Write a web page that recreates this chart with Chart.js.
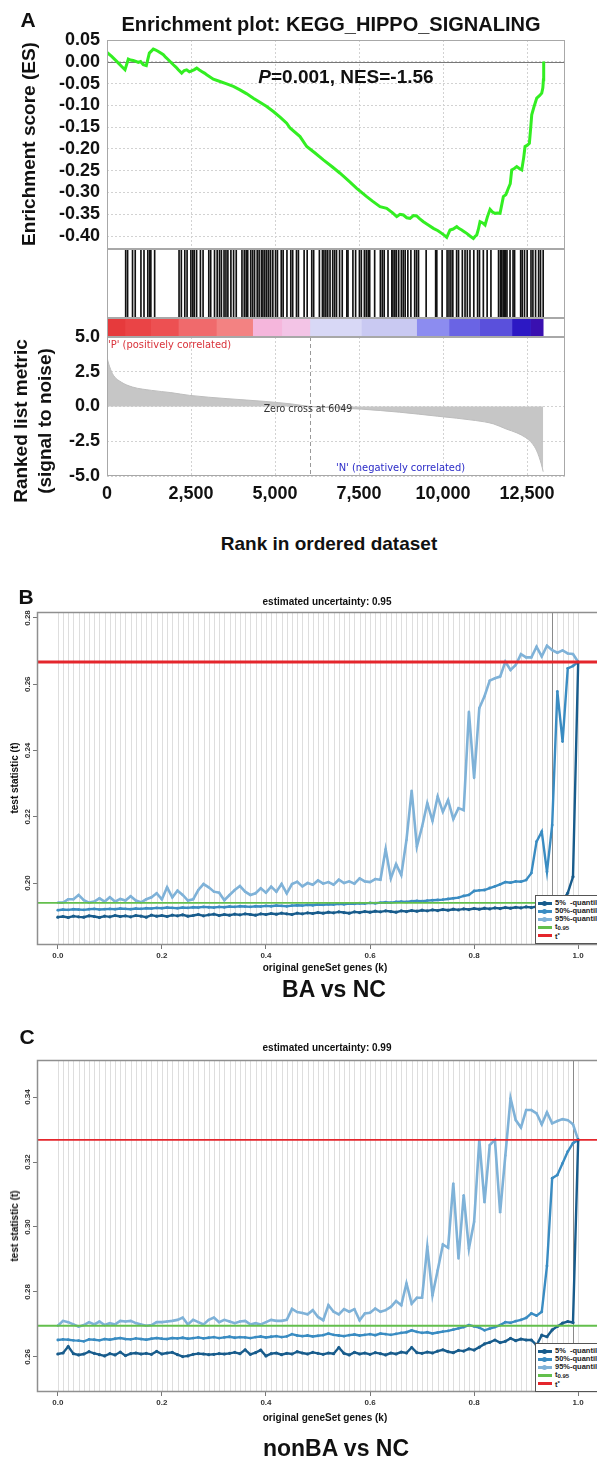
<!DOCTYPE html>
<html>
<head>
<meta charset="utf-8">
<script src="https://cdn.jsdelivr.net/npm/chart.js@4.4.1/dist/chart.umd.min.js"></script>
<style>
html, body { margin: 0; padding: 0; background: #fff; }
#page { position: relative; width: 597px; height: 1457px; overflow: hidden; background: #fff;
        font-family: "Liberation Sans", Arial, sans-serif; color: #111; }
.box { position: absolute; }
.t { position: absolute; white-space: nowrap; line-height: 1; transform: translate(-50%, -50%); font-weight: bold; }
.t.rot { transform: translate(-50%, -50%) rotate(-90deg); }
.tl { position: absolute; white-space: nowrap; line-height: 1; transform: translate(0, -50%); }
.narrow { font-family: "Liberation Sans Narrow", "DejaVu Sans Condensed", sans-serif; }
.legend { position: absolute; background: #fff; border: 1px solid #555; width: 80px; height: 44px;
          padding-top: 3px; font: bold 7.5px "Liberation Sans", Arial, sans-serif; color: #222; }
.legend div { position: relative; height: 8px; line-height: 8px; padding-left: 19px; white-space: nowrap; }
.legend .s { position: absolute; left: 2px; top: 3px; width: 14px; height: 2.5px; }
.legend .d { position: absolute; left: 6px; top: 1.5px; width: 5px; height: 5px; border-radius: 50%; }
.legend sub { font-size: 6px; vertical-align: -1px; }
.legend sup { font-size: 6px; vertical-align: 2px; }
</style>
</head>
<body>
<div id="page">
  <div class="box" style="left:0;top:30px;width:597px;height:219px"><canvas id="es"></canvas></div>
  <div class="box" style="left:0;top:249px;width:597px;height:69px"><canvas id="hits"></canvas></div>
  <div class="box" style="left:0;top:318px;width:597px;height:19px"><canvas id="heat"></canvas></div>
  <div class="box" style="left:0;top:322px;width:597px;height:184px"><canvas id="metric"></canvas></div>
  <div class="box" style="left:0;top:598px;width:620px;height:372px"><canvas id="runB"></canvas></div>
  <div class="box" style="left:0;top:1046px;width:620px;height:371px"><canvas id="runC"></canvas></div>

  <div class="t" style="left:28px;top:19px;font-size:21px">A</div>
  <div class="t" style="left:331px;top:24px;font-size:20px">Enrichment plot: KEGG_HIPPO_SIGNALING</div>
  <div class="t rot" style="left:28px;top:144px;font-size:19px">Enrichment score (ES)</div>
  <div class="t" style="left:346px;top:76px;font-size:19px"><i>P</i>=0.001, NES=-1.56</div>
  <div class="t rot" style="left:20px;top:421px;font-size:19px">Ranked list metric</div>
  <div class="t rot" style="left:44px;top:421px;font-size:19px">(signal to noise)</div>
  <div class="t" style="left:329px;top:543px;font-size:19px">Rank in ordered dataset</div>
  <div class="tl narrow" style="left:108px;top:344px;font-size:11px;color:#d9323a">'P' (positively correlated)</div>
  <div class="t narrow" style="left:308px;top:408px;font-size:10.5px;color:#333;font-weight:normal">Zero cross at 6049</div>
  <div class="tl narrow" style="left:336px;top:467px;font-size:11px;color:#2b2bc8">'N' (negatively correlated)</div>

  <div class="t" style="left:26px;top:596px;font-size:21px">B</div>
  <div class="t" style="left:327px;top:602px;font-size:10px">estimated uncertainty: 0.95</div>
  <div class="t rot" style="left:15px;top:778px;font-size:10px">test statistic (t)</div>
  <div class="t" style="left:325px;top:968px;font-size:10px">original geneSet genes (k)</div>
  <div class="t" style="left:334px;top:989px;font-size:23px">BA vs NC</div>
  <div class="legend" style="left:535px;top:895px">
    <div><span class="s" style="background:#185c8c"></span><span class="d" style="background:#185c8c"></span>5% &nbsp;-quantile</div>
    <div><span class="s" style="background:#3a8cc2"></span><span class="d" style="background:#3a8cc2"></span>50%-quantile</div>
    <div><span class="s" style="background:#7fb2d8"></span><span class="d" style="background:#7fb2d8"></span>95%-quantile</div>
    <div><span class="s" style="background:#63bf4c;height:3px"></span>t<sub>0.95</sub></div>
    <div><span class="s" style="background:#e4262c;height:3px"></span>t<sup>*</sup></div>
  </div>

  <div class="t" style="left:27px;top:1036px;font-size:21px">C</div>
  <div class="t" style="left:327px;top:1048px;font-size:10px">estimated uncertainty: 0.99</div>
  <div class="t rot" style="left:15px;top:1226px;font-size:10px">test statistic (t)</div>
  <div class="t" style="left:325px;top:1418px;font-size:10px">original geneSet genes (k)</div>
  <div class="t" style="left:336px;top:1448px;font-size:23px">nonBA vs NC</div>
  <div class="legend" style="left:535px;top:1343px">
    <div><span class="s" style="background:#185c8c"></span><span class="d" style="background:#185c8c"></span>5% &nbsp;-quantile</div>
    <div><span class="s" style="background:#3a8cc2"></span><span class="d" style="background:#3a8cc2"></span>50%-quantile</div>
    <div><span class="s" style="background:#7fb2d8"></span><span class="d" style="background:#7fb2d8"></span>95%-quantile</div>
    <div><span class="s" style="background:#63bf4c;height:3px"></span>t<sub>0.95</sub></div>
    <div><span class="s" style="background:#e4262c;height:3px"></span>t<sup>*</sup></div>
  </div>
</div>

<script>
// ---- panel A: GSEA enrichment plot ----
const rankMax = 13629;
const rankTicks = [0, 2500, 5000, 7500, 10000, 12500];
const esTicks = [0.05, 0.00, -0.05, -0.10, -0.15, -0.20, -0.25, -0.30, -0.35, -0.40];
const metricTicks = [5.0, 2.5, 0.0, -2.5, -5.0];
const zeroCross = 6049;

const esRank = [0,139,289,437,536,635,700,780,860,932,1000,1080,1170,1260,1379,1450,1528,1600,1677,1750,
  1825,1900,1974,2050,2122,2222,2300,2370,2450,2520,2600,2670,2750,2818,2900,2967,3164,3363,3562,3760,
  3958,4150,4355,4550,4752,4950,5150,5347,5446,5744,5943,6200,6438,6700,6935,7200,7431,7728,7900,8125,
  8323,8500,8621,8720,8820,8920,9018,9120,9217,9300,9415,9550,9712,9850,9961,10050,10110,10208,10300,10407,
  10480,10556,10630,10705,10800,10902,10950,11002,11050,11101,11180,11250,11320,11399,11470,11548,11620,11696,11795,11870,
  11944,12000,12044,12120,12193,12270,12342,12400,12440,12500,12569,12610,12639,12700,12788,12870,12937,12970,12986,12995];
const esValue = [0.0214,0.0123,0.0008,-0.0107,-0.0184,0.0061,0.0040,0.0030,0.0010,-0.0015,
  0.0005,-0.0069,-0.0090,0.0199,0.0291,0.0270,0.0237,0.0200,0.0161,0.0100,
  0.0046,-0.0010,-0.0069,-0.0120,-0.0184,-0.0260,-0.0200,-0.0184,-0.0230,-0.0207,
  -0.0180,-0.0146,-0.0190,-0.0222,-0.0260,-0.0299,-0.0399,-0.0452,-0.0506,-0.0567,
  -0.0644,-0.0730,-0.0835,-0.0930,-0.1027,-0.1142,-0.1270,-0.1410,-0.1520,-0.1717,
  -0.1946,-0.2100,-0.2253,-0.2410,-0.2559,-0.2740,-0.2904,-0.3096,-0.3200,-0.3326,
  -0.3364,-0.3470,-0.3556,-0.3500,-0.3517,-0.3580,-0.3594,-0.3530,-0.3540,-0.3600,
  -0.3671,-0.3740,-0.3824,-0.3880,-0.3939,-0.3990,-0.4031,-0.3862,-0.3840,-0.3786,
  -0.3830,-0.3862,-0.3900,-0.3939,-0.4000,-0.4054,-0.4010,-0.3977,-0.3850,-0.3671,
  -0.3700,-0.3747,-0.3560,-0.3387,-0.3450,-0.3479,-0.3470,-0.3479,-0.3096,-0.3050,
  -0.2904,-0.2800,-0.2483,-0.2450,-0.2406,-0.2450,-0.2483,-0.2200,-0.1946,-0.1920,
  -0.1870,-0.1500,-0.1218,-0.1050,-0.0835,-0.0780,-0.0720,-0.0600,-0.0414,0.0008];

const hitRanks = [0,556,613,760,840,1010,1101,1214,1271,1305,1418,2144,2212,2315,2383,2496,2553,2598,2666,2780,
  2859,3029,3086,3200,3279,3347,3404,3483,3540,3597,3687,3767,3846,4016,4085,4141,4187,4277,4334,4391,
  4470,4527,4595,4640,4697,4754,4811,4868,4935,5015,5072,5185,5242,5355,5469,5526,5639,5696,5866,5957,
  6093,6150,6320,6411,6456,6513,6569,6637,6717,6774,6830,6921,7000,7137,7171,7318,7398,7511,7568,7659,
  7715,7772,7817,7965,8135,8192,8249,8362,8475,8510,8566,8612,8680,8759,8816,8873,8952,9043,9156,9213,
  9270,9497,9780,9814,9973,10120,10177,10234,10291,10404,10461,10574,10654,10722,10801,10915,11028,11085,11199,11312,
  11425,11652,11709,11743,11788,11823,11857,11902,11993,12083,12129,12310,12356,12424,12503,12617,12674,12753,12844,12900,12980];

// colour strip under the hits: segment end ranks and colours
const heatEnds = [533,1300,2122,3256,4334,5200,6036,7568,9213,10177,11085,12050,12600,12980];
const heatColors = ['#e63a3c','#ea4446','#ed5052','#f06a6c','#f38282','#f5b6dc','#f3c4e6','#d8d8f6',
  '#c9c9f2','#8c8cf0','#6a64e4','#5a50dc','#2c18c4','#3a10b0'];

const metricRank = [0,25,80,190,420,760,1330,1900,2460,3600,4730,5500,6049,6800,7568,8702,9837,10972,11500,11879,
  12200,12447,12650,12787,12923,12980];
const metricValue = [3.6,3.3,2.85,2.25,1.76,1.40,1.16,1.00,0.80,0.56,0.36,0.18,0.0,-0.10,-0.19,-0.41,-0.70,-1.01,-1.25,-1.62,
  -1.90,-2.22,-2.65,-3.19,-4.13,-4.69];

// ---- panels B and C: test statistic vs k ----
const kValues = [0.00,0.01,0.02,0.03,0.04,0.05,0.06,0.07,0.08,0.09,
  0.10,0.11,0.12,0.13,0.14,0.15,0.16,0.17,0.18,0.19,
  0.20,0.21,0.22,0.23,0.24,0.25,0.26,0.27,0.28,0.29,
  0.30,0.31,0.32,0.33,0.34,0.35,0.36,0.37,0.38,0.39,
  0.40,0.41,0.42,0.43,0.44,0.45,0.46,0.47,0.48,0.49,
  0.50,0.51,0.52,0.53,0.54,0.55,0.56,0.57,0.58,0.59,
  0.60,0.61,0.62,0.63,0.64,0.65,0.66,0.67,0.68,0.69,
  0.70,0.71,0.72,0.73,0.74,0.75,0.76,0.77,0.78,0.79,
  0.80,0.81,0.82,0.83,0.84,0.85,0.86,0.87,0.88,0.89,
  0.90,0.91,0.92,0.93,0.94,0.95,0.96,0.97,0.98,0.99,1.00];
const kTicks = [0, 0.2, 0.4, 0.6, 0.8, 1.0];

const bTicks = [0.20, 0.22, 0.24, 0.26, 0.28];
const bTStar = 0.2667, bT95 = 0.1940, bUncertainty = 0.95;
const bQ05 = [0.1897,0.1899,0.1896,0.1900,0.1898,0.1897,0.1901,0.1899,0.1896,0.1900,
  0.1898,0.1902,0.1899,0.1901,0.1898,0.1902,0.1900,0.1897,0.1903,0.1900,
  0.1902,0.1899,0.1903,0.1901,0.1904,0.1900,0.1902,0.1905,0.1901,0.1904,
  0.1906,0.1902,0.1905,0.1903,0.1906,0.1904,0.1907,0.1905,0.1903,0.1907,
  0.1905,0.1908,0.1906,0.1909,0.1907,0.1905,0.1909,0.1907,0.1910,0.1908,
  0.1911,0.1909,0.1912,0.1910,0.1913,0.1911,0.1909,0.1913,0.1911,0.1914,
  0.1912,0.1915,0.1913,0.1916,0.1914,0.1912,0.1916,0.1914,0.1917,0.1915,
  0.1918,0.1916,0.1919,0.1917,0.1920,0.1918,0.1921,0.1919,0.1922,0.1920,
  0.1923,0.1921,0.1924,0.1922,0.1925,0.1923,0.1926,0.1924,0.1927,0.1925,
  0.1928,0.1926,0.1929,0.1927,0.1930,0.1932,0.1935,0.1946,0.1970,0.2019,0.2667];
const bQ50 = [0.1918,0.1920,0.1919,0.1921,0.1920,0.1919,0.1921,0.1922,0.1920,0.1921,
  0.1922,0.1921,0.1923,0.1922,0.1921,0.1923,0.1922,0.1924,0.1923,0.1925,
  0.1924,0.1926,0.1925,0.1924,0.1926,0.1925,0.1927,0.1926,0.1928,0.1927,
  0.1926,0.1928,0.1927,0.1929,0.1928,0.1930,0.1929,0.1928,0.1930,0.1929,
  0.1931,0.1930,0.1932,0.1931,0.1930,0.1932,0.1933,0.1932,0.1934,0.1933,
  0.1935,0.1934,0.1936,0.1935,0.1937,0.1936,0.1938,0.1937,0.1939,0.1938,
  0.1940,0.1939,0.1941,0.1942,0.1941,0.1943,0.1944,0.1943,0.1945,0.1946,
  0.1945,0.1947,0.1948,0.1949,0.1950,0.1952,0.1954,0.1956,0.1961,0.1964,
  0.1976,0.1978,0.1979,0.1985,0.1990,0.1996,0.2003,0.2001,0.2005,0.2004,
  0.2009,0.2030,0.2125,0.2155,0.2034,0.2175,0.2578,0.2427,0.2648,0.2655,0.2667];
const bQ95 = [0.1941,0.1941,0.1951,0.1951,0.1964,0.1948,0.1941,0.1944,0.1954,0.1944,
  0.1957,0.1944,0.1952,0.1947,0.1960,0.1947,0.1942,0.1951,0.1957,0.1969,
  0.1951,0.1987,0.1957,0.1977,0.1964,0.1947,0.1951,0.1979,0.1997,0.1987,
  0.1974,0.1971,0.1948,0.1964,0.1979,0.1991,0.1974,0.1964,0.1969,0.1984,
  0.1971,0.1989,0.1974,0.1997,0.1969,0.1997,0.2004,0.1990,0.2000,0.1995,
  0.2008,0.1998,0.2003,0.1995,0.2010,0.2000,0.2005,0.1998,0.2014,0.2005,
  0.2003,0.2012,0.2010,0.2102,0.2014,0.2057,0.2024,0.2130,0.2279,0.2110,
  0.2170,0.2241,0.2188,0.2261,0.2215,0.2250,0.2193,0.2226,0.2220,0.2517,
  0.2317,0.2528,0.2564,0.2611,0.2618,0.2623,0.2668,0.2643,0.2658,0.2691,
  0.2681,0.2681,0.2713,0.2684,0.2716,0.2703,0.2695,0.2702,0.2693,0.2691,0.2667];

const cTicks = [0.26, 0.28, 0.30, 0.32, 0.34];
const cTStar = 0.3268, cT95 = 0.2696, cUncertainty = 0.99;
const cQ05 = [0.2609,0.2612,0.2632,0.2610,0.2606,0.2609,0.2616,0.2611,0.2607,0.2603,
  0.2610,0.2606,0.2615,0.2604,0.2610,0.2612,0.2609,0.2611,0.2608,0.2617,
  0.2609,0.2612,0.2614,0.2607,0.2601,0.2603,0.2608,0.2610,0.2609,0.2607,
  0.2608,0.2610,0.2609,0.2611,0.2614,0.2610,0.2622,0.2608,0.2613,0.2621,
  0.2603,0.2610,0.2612,0.2607,0.2611,0.2609,0.2616,0.2612,0.2609,0.2614,
  0.2611,0.2608,0.2612,0.2610,0.2629,0.2611,0.2606,0.2614,0.2609,0.2612,
  0.2608,0.2613,0.2610,0.2606,0.2612,0.2609,0.2615,0.2612,0.2629,0.2613,
  0.2611,0.2615,0.2612,0.2618,0.2622,0.2616,0.2613,0.2620,0.2618,0.2625,
  0.2621,0.2630,0.2640,0.2645,0.2652,0.2644,0.2648,0.2657,0.2650,0.2655,
  0.2652,0.2652,0.2636,0.2667,0.2662,0.2683,0.2694,0.2704,0.2709,0.2706,0.3268];
const cQ50 = [0.2652,0.2654,0.2653,0.2651,0.2650,0.2648,0.2654,0.2653,0.2651,0.2655,
  0.2653,0.2656,0.2658,0.2655,0.2654,0.2657,0.2655,0.2653,0.2656,0.2658,
  0.2656,0.2655,0.2658,0.2657,0.2659,0.2656,0.2658,0.2660,0.2657,0.2659,
  0.2661,0.2658,0.2660,0.2662,0.2659,0.2661,0.2660,0.2658,0.2661,0.2663,
  0.2660,0.2662,0.2664,0.2661,0.2663,0.2670,0.2666,0.2664,0.2666,0.2663,
  0.2665,0.2667,0.2672,0.2668,0.2666,0.2664,0.2667,0.2669,0.2666,0.2668,
  0.2670,0.2667,0.2672,0.2670,0.2668,0.2671,0.2674,0.2676,0.2682,0.2677,
  0.2674,0.2676,0.2672,0.2675,0.2678,0.2680,0.2684,0.2688,0.2692,0.2698,
  0.2694,0.2690,0.2682,0.2687,0.2692,0.2698,0.2707,0.2705,0.2710,0.2714,
  0.2720,0.2734,0.2727,0.2739,0.2880,0.3150,0.3160,0.3196,0.3232,0.3258,0.3268];
const cQ95 = [0.2696,0.2711,0.2707,0.2700,0.2693,0.2698,0.2707,0.2700,0.2709,0.2698,
  0.2704,0.2700,0.2711,0.2709,0.2711,0.2704,0.2700,0.2696,0.2698,0.2707,
  0.2707,0.2709,0.2711,0.2714,0.2721,0.2700,0.2714,0.2707,0.2700,0.2714,
  0.2721,0.2707,0.2714,0.2709,0.2704,0.2709,0.2711,0.2700,0.2704,0.2700,
  0.2707,0.2714,0.2711,0.2711,0.2714,0.2748,0.2738,0.2735,0.2731,0.2744,
  0.2723,0.2713,0.2759,0.2739,0.2731,0.2747,0.2739,0.2747,0.2713,0.2734,
  0.2736,0.2749,0.2739,0.2744,0.2754,0.2772,0.2759,0.2826,0.2764,0.2782,
  0.2782,0.2939,0.2790,0.2867,0.2946,0.2936,0.3134,0.2903,0.3098,0.2934,
  0.3016,0.3268,0.3076,0.3252,0.3268,0.3045,0.3220,0.3396,0.3329,0.3306,
  0.3360,0.3360,0.3350,0.3316,0.3353,0.3319,0.3326,0.3332,0.3329,0.3316,0.3268];

Chart.defaults.animation = false;
Chart.defaults.responsive = true;
Chart.defaults.maintainAspectRatio = false;
Chart.defaults.events = [];
Chart.defaults.plugins.legend.display = false;
Chart.defaults.plugins.tooltip.enabled = false;
Chart.defaults.font.family = '"Liberation Sans", Arial, sans-serif';
Chart.defaults.color = '#111';

// small helper plugins
function box(color, width) {
  return { id: 'box', afterDraw(c) {
    const a = c.chartArea, ctx = c.ctx;
    ctx.save();
    ctx.strokeStyle = color; ctx.lineWidth = width;
    ctx.strokeRect(a.left + 0.5, a.top + 0.5, a.right - a.left - 1, a.bottom - a.top - 1);
    ctx.restore();
  }};
}
function refLine(axis, value, color, width, dash) {
  return { id: 'ref' + axis, beforeDatasetsDraw(c) {
    const a = c.chartArea, ctx = c.ctx;
    const p = Math.round(c.scales[axis].getPixelForValue(value)) + 0.5;
    ctx.save();
    ctx.strokeStyle = color; ctx.lineWidth = width; ctx.setLineDash(dash || []);
    ctx.beginPath();
    if (axis === 'x') { ctx.moveTo(p, a.top); ctx.lineTo(p, a.bottom); }
    else { ctx.moveTo(a.left, p); ctx.lineTo(a.right, p); }
    ctx.stroke();
    ctx.restore();
  }};
}
function kLines(mark) {
  return { id: 'klines', beforeDatasetsDraw(c) {
    const a = c.chartArea, ctx = c.ctx, x = c.scales.x;
    const draw = (k, col) => {
      const p = Math.round(x.getPixelForValue(k)) + 0.5;
      ctx.strokeStyle = col;
      ctx.beginPath(); ctx.moveTo(p, a.top); ctx.lineTo(p, a.bottom); ctx.stroke();
    };
    ctx.save(); ctx.lineWidth = 1;
    kValues.forEach(k => draw(k, '#dedede'));
    draw(mark, '#8a8a8a');
    ctx.restore();
  }};
}
function yLabels(ticks) {
  return { id: 'ylab', afterDraw(c) {
    const y = c.scales.y, ctx = c.ctx;
    ctx.save();
    ctx.fillStyle = '#333';
    ctx.font = 'bold 8px "Liberation Sans", Arial, sans-serif';
    ctx.textAlign = 'center'; ctx.textBaseline = 'middle';
    ticks.forEach(v => {
      ctx.save();
      ctx.translate(28, y.getPixelForValue(v));
      ctx.rotate(-Math.PI / 2);
      ctx.fillText(v.toFixed(2), 0, 0);
      ctx.restore();
    });
    ctx.restore();
  }};
}
const comma = v => String(v).replace(/\B(?=(\d{3})+(?!\d))/g, ',');
const dashedGrid = { color: '#d2d2d2', drawTicks: false };
// fixed axis sizes so every panel-A chart shares the same plot edges
const fixY = s => { s.width = 107; s.paddingTop = 0; s.paddingBottom = 0; };
const fixX = h => s => { s.height = h; s.paddingLeft = 0; s.paddingRight = 0; };

// running enrichment score
new Chart(document.getElementById('es'), {
  type: 'line',
  data: { datasets: [{
    data: esRank.map((r, i) => ({ x: r, y: esValue[i] })),
    borderColor: '#33ee22', borderWidth: 3, pointRadius: 0, tension: 0
  }]},
  options: {
    layout: { padding: { top: 10, right: 32, left: 0, bottom: 0 } },
    scales: {
      x: { type: 'linear', min: 0, max: rankMax,
           afterBuildTicks: s => { s.ticks = rankTicks.map(v => ({ value: v })); },
           afterFit: fixX(0),
           ticks: { display: false }, grid: dashedGrid, border: { display: false, dash: [2, 2] } },
      y: { min: -0.4298, max: 0.05,
           afterBuildTicks: s => { s.ticks = esTicks.map(v => ({ value: v })); },
           afterFit: fixY,
           ticks: { padding: 7, autoSkip: false, font: { size: 18, weight: 'bold' }, callback: v => v.toFixed(2) },
           grid: dashedGrid, border: { display: false, dash: [2, 2] } }
    }
  },
  plugins: [refLine('y', 0, '#777', 1), box('#a8a8a8', 1)]
});

// hit marks
new Chart(document.getElementById('hits'), {
  type: 'bar',
  data: { datasets: [{
    data: hitRanks.map(r => ({ x: r, y: 1 })),
    backgroundColor: '#111', barThickness: 1
  }]},
  options: {
    layout: { padding: { top: 0, right: 32, left: 107, bottom: 0 } },
    scales: {
      x: { type: 'linear', min: 0, max: rankMax, offset: false, display: false },
      y: { min: 0, max: 1, display: false }
    }
  },
  plugins: [box('#a8a8a8', 1)]
});

// colour strip
new Chart(document.getElementById('heat'), {
  type: 'bar',
  data: { labels: ['rank'], datasets: heatEnds.map((e, i) => ({
    data: [e - (i ? heatEnds[i - 1] : 0)], backgroundColor: heatColors[i],
    borderWidth: 0, barPercentage: 1, categoryPercentage: 1
  }))},
  options: {
    indexAxis: 'y',
    layout: { padding: { top: 0, right: 32, left: 107, bottom: 0 } },
    scales: {
      x: { type: 'linear', stacked: true, min: 0, max: rankMax, display: false },
      y: { stacked: true, display: false }
    }
  },
  plugins: [box('#a8a8a8', 1)]
});

// ranked list metric
new Chart(document.getElementById('metric'), {
  type: 'line',
  data: { datasets: [{
    data: metricRank.map((r, i) => ({ x: r, y: metricValue[i] })),
    borderColor: '#bdbdbd', borderWidth: 1, backgroundColor: '#c6c6c6',
    fill: 'origin', pointRadius: 0, cubicInterpolationMode: 'monotone'
  }]},
  options: {
    layout: { padding: { top: 15, right: 32, left: 0, bottom: 0 } },
    scales: {
      x: { type: 'linear', min: 0, max: rankMax,
           afterBuildTicks: s => { s.ticks = rankTicks.map(v => ({ value: v })); },
           afterFit: fixX(30),
           ticks: { padding: 7, maxRotation: 0, autoSkip: false, font: { size: 18, weight: 'bold' }, callback: v => comma(v) },
           grid: dashedGrid, border: { display: false, dash: [2, 2] } },
      y: { min: -5, max: 5,
           afterBuildTicks: s => { s.ticks = metricTicks.map(v => ({ value: v })); },
           afterFit: fixY,
           ticks: { padding: 7, autoSkip: false, font: { size: 18, weight: 'bold' }, callback: v => v.toFixed(1) },
           grid: dashedGrid, border: { display: false, dash: [2, 2] } }
    }
  },
  plugins: [refLine('x', zeroCross, '#999', 1, [4, 3]), box('#a8a8a8', 1)]
});

function runChart(id, q05, q50, q95, tStar, t95, yMin, yMax, yTicks, mark, redW) {
  const pts = arr => kValues.map((k, i) => ({ x: k, y: arr[i] }));
  const flat = v => [{ x: -0.04, y: v }, { x: 1.04, y: v }];
  const line = (data, color, w, r) => ({ data, borderColor: color, backgroundColor: color,
    borderWidth: w, pointRadius: r, pointBorderWidth: 0, tension: 0 });
  return new Chart(document.getElementById(id), {
    type: 'line',
    data: { datasets: [
      line(flat(tStar), '#e4262c', redW, 0),
      line(flat(t95), '#63bf4c', 1.8, 0),
      line(pts(q05), '#185c8c', 2.4, 1.6),
      line(pts(q50), '#3a8cc2', 2.4, 1.4),
      line(pts(q95), '#7fb2d8', 2.6, 1.2)
    ]},
    options: {
      layout: { padding: { top: 14, right: 21, left: 0, bottom: 0 } },
      scales: {
        x: { type: 'linear', min: -0.04, max: 1.04,
             afterBuildTicks: s => { s.ticks = kTicks.map(v => ({ value: v })); },
             afterFit: s => { s.height = 25; },
             ticks: { padding: 2, maxRotation: 0, autoSkip: false, color: '#333',
                      font: { size: 8, weight: 'bold' }, callback: v => v.toFixed(1) },
             grid: { drawOnChartArea: false, tickLength: 4, tickColor: '#777' },
             border: { display: false } },
        y: { min: yMin, max: yMax,
             afterBuildTicks: s => { s.ticks = yTicks.map(v => ({ value: v })); },
             afterFit: s => { s.width = 37; },
             ticks: { display: false },
             grid: { drawOnChartArea: false, tickLength: 4, tickColor: '#777' },
             border: { display: false } }
      }
    },
    plugins: [kLines(mark), box('#8f8f8f', 1.5), yLabels(yTicks)]
  });
}

runChart('runB', bQ05, bQ50, bQ95, bTStar, bT95, 0.1813, 0.2818, bTicks, bUncertainty, 3);
runChart('runC', cQ05, cQ50, cQ95, cTStar, cT95, 0.2492, 0.3514, cTicks, cUncertainty, 1.8);
</script>
</body>
</html>
